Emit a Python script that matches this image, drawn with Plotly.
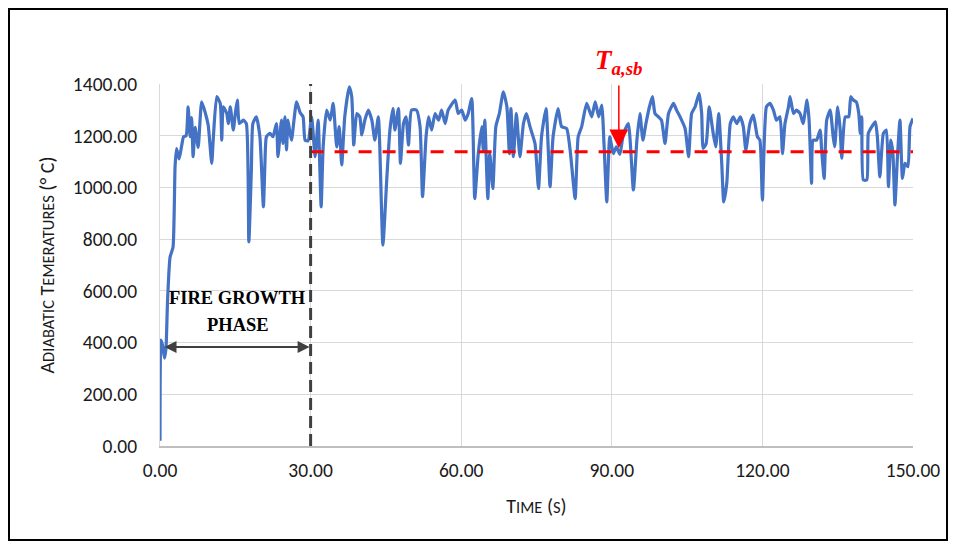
import plotly.graph_objects as go

time_s = [0, 0.2, 0.5, 0.9, 1.2, 1.5, 2.0, 2.6, 3.0, 3.3, 3.8, 4.3, 4.7, 5.2, 5.6, 6.0, 6.3, 6.6, 7.0, 7.6,
          8.3, 9.0, 9.6, 10.3, 10.6, 11.3, 12.0, 12.3, 12.6, 13.3, 13.6, 14.0, 14.6, 15.0, 15.4, 15.8, 16.6,
          17.2, 17.7, 18.2, 18.5, 19.2, 19.9, 20.6, 20.9, 21.2, 21.9, 22.5, 23.2, 23.5, 24.2, 24.5, 24.9,
          25.2, 25.5, 25.9, 26.2, 27.2, 27.9, 28.5, 28.9, 29.5, 30.2, 30.9, 31.5, 32.1, 32.5, 33.2, 33.9,
          34.5, 35.2, 35.7, 36.2, 36.8, 37.7, 38.2, 38.6, 39.2, 39.8, 40.2, 40.8, 41.5, 42.2, 42.8, 43.5,
          44.4, 45.2, 45.8, 46.4, 46.8, 47.5, 47.9, 48.5, 49.0, 49.5, 50.1, 51.1, 51.8, 52.3, 53.0, 53.5,
          54.1, 54.8, 55.5, 56.1, 56.8, 57.4, 58.8, 59.4, 60.1, 60.8, 61.4, 62.1, 62.7, 63.4, 64.1, 64.4,
          64.7, 65.3, 65.7, 66.3, 66.9, 67.6, 68.4, 69.1, 69.6, 69.9, 70.4, 71.0, 71.7, 72.4, 73.0, 73.7,
          74.7, 75.4, 76.0, 76.9, 77.7, 78.3, 79.3, 80.0, 81.0, 81.7, 82.7, 83.3, 84.0, 85.0, 86.0, 86.7,
          87.4, 88.0, 88.5, 89.0, 89.6, 90.3, 90.9, 91.6, 92.2, 92.6, 93.3, 94.3, 95.0, 95.6, 96.2, 96.8,
          97.5, 98.1, 98.6, 99.3, 99.9, 100.6, 101.3, 102.3, 102.9, 103.6, 104.6, 105.3, 105.9, 106.6,
          107.4, 107.9, 108.2, 108.8, 109.4, 110.1, 110.7, 111.3, 111.9, 112.3, 112.9, 113.6, 114.2,
          114.9, 115.6, 116.2, 116.7, 117.5, 118.2, 119.0, 119.5, 120.0, 120.8, 121.5, 122.2, 122.8,
          123.5, 124.0, 124.5, 125.2, 125.5, 126.2, 126.8, 127.5, 128.1, 128.9, 129.3, 129.8, 130.1,
          130.8, 131.5, 131.8, 132.3, 132.8, 133.5, 134.1, 134.4, 135.0, 135.5, 135.8, 136.5, 137.2,
          137.6, 138.1, 138.7, 139.2, 139.5, 139.8, 140.1, 140.8, 141.1, 141.8, 142.5, 142.9, 143.4,
          144.1, 144.7, 145.1, 145.6, 146.0, 146.4, 146.9, 147.4, 147.9, 148.4, 149.0, 149.4, 150.0]

temperature_c = [20, 410, 390, 340, 380, 560, 730, 770, 1080, 1150, 1110, 1160, 1196, 1200, 1312, 1196, 1270,
                 1119, 1232, 1155, 1331, 1290, 1241, 1093, 1183, 1351, 1325, 1183, 1312, 1286, 1247, 1312,
                 1222, 1286, 1338, 1247, 1260, 1247, 790, 1067, 1247, 1273, 1196, 925, 1093, 1196, 1209,
                 1196, 1247, 1119, 1260, 1170, 1273, 1145, 1260, 1209, 1183, 1331, 1290, 1273, 1183, 1180,
                 1273, 1119, 1260, 925, 1157, 1299, 1260, 1325, 1157, 1235, 1087, 1273, 1389, 1350, 1164,
                 1286, 1273, 1203, 1260, 1299, 1260, 1183, 1273, 777, 1041, 1222, 1305, 1222, 1305, 1093,
                 1247, 1273, 1164, 1299, 1299, 1235, 964, 1196, 1273, 1222, 1286, 1260, 1299, 1247, 1299,
                 1338, 1286, 1299, 1260, 1286, 1344, 957, 1131, 1235, 1145, 1260, 957, 1131, 996, 1235,
                 1286, 1370, 1312, 1131, 1305, 1119, 1286, 1119, 1247, 1286, 1235, 1170, 996, 1196, 1305,
                 1003, 1196, 1305, 1235, 1228, 1145, 957, 1196, 1235, 1325, 1273, 1331, 1273, 1318, 1145,
                 944, 1196, 1131, 1157, 1128, 1196, 1222, 1247, 990, 1183, 1286, 1183, 1247, 1312, 1351,
                 1286, 1273, 1260, 1170, 1286, 1325, 1299, 1273, 1228, 1119, 1286, 1312, 1364, 1286, 1151,
                 1170, 1312, 1222, 1157, 1286, 1093, 944, 1016, 1247, 1273, 1247, 1273, 1235, 1145, 1247,
                 1280, 1196, 1183, 951, 1312, 1325, 1299, 1260, 1273, 1131, 1247, 1312, 1351, 1286, 1299,
                 1286, 1247, 1338, 1260, 1016, 1183, 1183, 1222, 1145, 1035, 1260, 1299, 1196, 1157, 1312,
                 1222, 1113, 1273, 1273, 1351, 1338, 1331, 1286, 1209, 1273, 1029, 1029, 1209, 1235, 1254,
                 1196, 1041, 1209, 1222, 1003, 1183, 1131, 932, 1119, 1260, 1035, 1093, 1080, 1235, 1267]

steady_time = [30, 150]
steady_temp = [1138, 1138]
growth_end_time = 30
arrow_level = 383
ta_sb_time = 91.4
ta_sb_temp = 1152

x_ticks = [0, 30, 60, 90, 120, 150]
y_ticks = [0, 200, 400, 600, 800, 1000, 1200, 1400]

FONT = "Carlito, Calibri, 'Liberation Sans Narrow', Lato, sans-serif"
SERIF = "'Liberation Serif', 'Times New Roman', serif"

# figure is offset by the page's 8px body margin
W, H = 940, 533
L, T = 152, 76
PW, PH = 753, 362

fig = go.Figure()
fig.add_trace(go.Scatter(x=time_s, y=temperature_c, mode="lines",
                         line=dict(color="#4472C4", width=3.2, shape="spline", smoothing=0.5),
                         showlegend=False, hoverinfo="skip"))
fig.add_trace(go.Scatter(x=steady_time, y=steady_temp, mode="lines",
                         line=dict(color="#FF0000", width=3.2, dash="13px,11px"),
                         showlegend=False, hoverinfo="skip"))
fig.add_trace(go.Scatter(x=[growth_end_time, growth_end_time], y=[0, 1405], mode="lines",
                         line=dict(color="#404040", width=3, dash="12px,6px"),
                         showlegend=False, hoverinfo="skip"))

# double arrow for fire growth phase
fig.add_annotation(x=29.8, y=arrow_level, ax=0.6, ay=arrow_level, xref="x", yref="y",
                   axref="x", ayref="y", showarrow=True, arrowhead=2, startarrowhead=2,
                   arrowside="end+start", arrowsize=1.2, startarrowsize=1.2, arrowwidth=2,
                   arrowcolor="#404040", text="")
fig.add_annotation(x=15.5, y=572, xref="x", yref="y", showarrow=False, text="<b>FIRE GROWTH</b>",
                   font=dict(family=SERIF, size=18.5, color="black"))
fig.add_annotation(x=15.5, y=468, xref="x", yref="y", showarrow=False, text="<b>PHASE</b>",
                   font=dict(family=SERIF, size=18.5, color="black"))

# Ta,sb arrow and label
fig.add_annotation(x=ta_sb_time, y=ta_sb_temp, ax=ta_sb_time, ay=1400, xref="x", yref="y",
                   axref="x", ayref="y", showarrow=True, arrowhead=2, arrowsize=2.5, arrowwidth=1.5,
                   arrowcolor="#FF0000", text="")
fig.add_annotation(x=ta_sb_time, y=1400, xref="x", yref="y", yanchor="bottom", yshift=3,
                   showarrow=False, text="<b><i>T<sub>a,sb</sub></i></b>",
                   font=dict(family=SERIF, size=27, color="#FF0000"))

# outer border
fig.add_shape(type="rect", xref="paper", yref="paper",
              x0=(1 - L) / PW, x1=(W - 1 - L) / PW,
              y0=(T + PH - (H - 1)) / PH, y1=(T + PH - 1) / PH,
              line=dict(color="black", width=2), fillcolor="rgba(0,0,0,0)", layer="below")

small = "<span style='font-size:16.5px'>"
fig.update_layout(
    width=W, height=H,
    margin=dict(l=L, r=W - L - PW, t=T, b=H - T - PH, autoexpand=False),
    paper_bgcolor="white", plot_bgcolor="white",
    font=dict(family=FONT, size=19.5, color="#1a1a1a"),
    xaxis=dict(range=[0, 150], tickvals=x_ticks, tickformat=".2f", showgrid=True,
               gridcolor="#d9d9d9", gridwidth=1, zeroline=False, showline=True,
               linecolor="#bfbfbf", linewidth=2, ticks="", ticklabelstandoff=6,
               title=dict(text="T" + small + "IME</span> (" + small + "S</span>)",
                          standoff=18, font=dict(size=20))),
    yaxis=dict(range=[0, 1400], tickvals=y_ticks, tickformat=".2f", showgrid=True,
               gridcolor="#d9d9d9", gridwidth=1, zeroline=False, showline=True,
               linecolor="#d9d9d9", linewidth=1, ticks="", ticklabelstandoff=18,
               title=dict(text="A" + small + "DIABATIC</span> T" + small + "EMERATURES</span> (° C)",
                          standoff=12, font=dict(size=20))),
)

fig.write_html("out.html")
